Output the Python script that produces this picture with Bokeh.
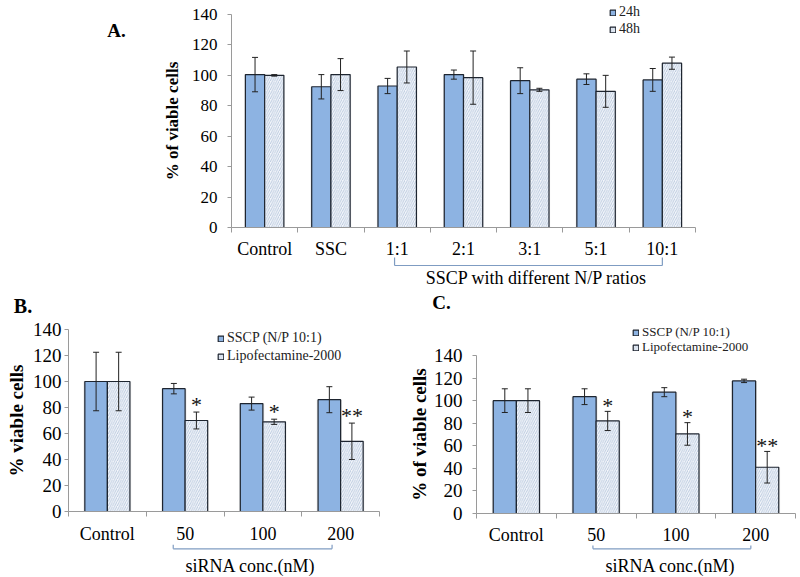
from bokeh.plotting import figure
from bokeh.models import (Range1d, FixedTicker, Whisker, TeeHead, ColumnDataSource,
                          Legend, LegendItem, Label, Arrow)
from bokeh.layouts import column, row
from bokeh.embed import file_html
from bokeh.resources import INLINE
from bokeh.core.properties import value

# ---------------- data ----------------
A_cats = ["Control", "SSC", "1:1", "2:1", "3:1", "5:1", "10:1"]
A_24h = [100.5, 92.5, 93, 100.5, 96.5, 97.5, 97]
A_24h_err = [11.3, 8, 5, 3, 8.5, 3.5, 7.5]
A_48h = [100, 100.5, 105.5, 98.5, 90.5, 89.5, 108]
A_48h_err = [0.5, 10.5, 10.5, 17.5, 1, 10.5, 4]

B_cats = ["Control", "50", "100", "200"]
B_sscp = [100, 94.5, 83, 86]
B_sscp_err = [22.5, 4, 5, 10]
B_lipo = [100, 70, 69, 54]
B_lipo_err = [22.5, 6.5, 2, 14]
B_stars = ["", "*", "*", "**"]

C_cats = ["Control", "50", "100", "200"]
C_sscp = [100, 103.5, 107.5, 117.5]
C_sscp_err = [10.5, 7, 4, 1.5]
C_lipo = [100, 82, 70.5, 41]
C_lipo_err = [10.5, 8.5, 10, 14]
C_stars = ["", "*", "*", "**"]

y_ticks = [0, 20, 40, 60, 80, 100, 120, 140]
Y_MAX = 140

# ---------------- style ----------------
SERIF = "Liberation Serif"
BLUE = "#8DB3E2"
LIGHT = "#F3F6FB"
HATCH = "#A3B7D2"
EDGE = "#1E2530"
AXIS = "#9A9A9A"
BRACKET = "#7F9CC2"
BW = 0.29


class Panel:
    """Figure whose frame covers the whole canvas; axes are pinned at data 0."""

    def __init__(self, cats, W, H, frame, offset):
        self.W, self.H = W, H
        self.ox, self.oy = offset
        left, right, top, bottom = frame
        n = len(cats)
        self.n = n
        self.left, self.bottom = left, bottom
        self.u = (right - left) / n
        self.v = (bottom - top) / Y_MAX
        p = figure(width=W, height=H, output_backend="svg", toolbar_location=None,
                   x_range=Range1d(-left / self.u, (W - left) / self.u),
                   y_range=Range1d(-(H - bottom) / self.v, Y_MAX + top / self.v))
        p.min_border_left = p.min_border_right = p.min_border_top = p.min_border_bottom = 0
        p.outline_line_color = None
        p.xgrid.visible = False
        p.ygrid.visible = False
        p.background_fill_color = "white"
        p.border_fill_color = "white"
        self.p = p
        self.cats = cats

    def px(self, x, y):
        """page pixel -> data coordinates"""
        fx, fy = x - self.ox, y - self.oy
        return (fx - self.left) / self.u, (self.bottom - fy) / self.v

    def bars(self, s1, e1, s2, e2):
        p = self.p
        centers = [i + 0.5 for i in range(self.n)]
        x1 = [c - BW / 2 for c in centers]
        x2 = [c + BW / 2 for c in centers]
        src1 = ColumnDataSource(dict(x=x1, top=s1, up=[a + b for a, b in zip(s1, e1)],
                                     lo=[a - b for a, b in zip(s1, e1)]))
        src2 = ColumnDataSource(dict(x=x2, top=s2, up=[a + b for a, b in zip(s2, e2)],
                                     lo=[a - b for a, b in zip(s2, e2)]))
        p.vbar(x="x", top="top", width=BW + 0.035, bottom=0, source=src1,
               fill_color="black", fill_alpha=0.10, line_color=None)
        p.vbar(x="x", top="top", width=BW + 0.035, bottom=0, source=src2,
               fill_color="black", fill_alpha=0.06, line_color=None)
        r1 = p.vbar(x="x", top="top", width=BW, bottom=0, source=src1,
                    fill_color=BLUE, line_color=EDGE, line_width=1.2)
        r2 = p.vbar(x="x", top="top", width=BW, bottom=0, source=src2,
                    fill_color=LIGHT, line_color=EDGE, line_width=1.2,
                    hatch_pattern="/", hatch_color=HATCH, hatch_scale=4.5, hatch_weight=0.7)
        for s in (src1, src2):
            p.add_layout(Whisker(source=s, base="x", upper="up", lower="lo",
                                 line_color="#222222", line_width=1, level="annotation",
                                 upper_head=TeeHead(size=6, line_color="#222222", line_width=1),
                                 lower_head=TeeHead(size=6, line_color="#222222", line_width=1)))
        self.r1, self.r2 = r1, r2

    def axes(self, tick_fs, tick_standoff, cat_fs, cat_standoff, ylabel, ylabel_fs,
             ylabel_standoff):
        p = self.p
        n = self.n
        centers = [i + 0.5 for i in range(n)]
        xa = p.xaxis[0]
        xa.fixed_location = 0
        xa.bounds = (0, n)
        xa.ticker = FixedTicker(ticks=centers, minor_ticks=list(range(n + 1)))
        xa.major_label_overrides = {c: lab for c, lab in zip(centers, self.cats)}
        xa.major_tick_line_color = None
        xa.major_tick_out = 0
        xa.major_tick_in = 0
        xa.minor_tick_line_color = AXIS
        xa.minor_tick_out = 5
        xa.minor_tick_in = 0
        xa.axis_line_color = AXIS
        xa.major_label_text_font = SERIF
        xa.major_label_text_font_size = cat_fs
        xa.major_label_text_color = "black"
        xa.major_label_standoff = cat_standoff

        ya = p.yaxis[0]
        ya.fixed_location = 0
        ya.bounds = (0, Y_MAX)
        ya.ticker = FixedTicker(ticks=y_ticks)
        ya.minor_tick_line_color = None
        ya.major_tick_line_color = AXIS
        ya.major_tick_out = 4
        ya.major_tick_in = 0
        ya.axis_line_color = AXIS
        ya.major_label_text_font = SERIF
        ya.major_label_text_font_size = tick_fs
        ya.major_label_text_color = "black"
        ya.major_label_standoff = tick_standoff
        ya.axis_label = ylabel
        ya.axis_label_text_font = SERIF
        ya.axis_label_text_font_style = "bold"
        ya.axis_label_text_font_size = ylabel_fs
        ya.axis_label_text_color = "black"
        ya.axis_label_standoff = ylabel_standoff

    def legend(self, labels, renderers, glyph_left, row_centers, fs, item_h):
        # one single-row legend per entry so each row sits at its own height
        for lab, r, cy in zip(labels, renderers, row_centers):
            bottom = cy - self.oy + item_h / 2
            lg = Legend(items=[LegendItem(label=lab, renderers=[r])],
                        location=(glyph_left - self.ox, self.H - bottom),
                        orientation="vertical", glyph_width=7, glyph_height=7,
                        label_height=item_h, spacing=0, padding=0, margin=0,
                        label_standoff=3, border_line_alpha=0, background_fill_alpha=0,
                        label_text_font=SERIF, label_text_font_size=fs,
                        label_text_color="#222222", label_text_baseline="middle")
            self.p.add_layout(lg)

    def bracket(self, x0, x1, py, py_top):
        _, y = self.px(0, py)
        _, yt = self.px(0, py_top)
        for xs, ys, xe, ye in ((x0, yt, x0, y), (x0, y, x1, y), (x1, y, x1, yt)):
            self.p.add_layout(Arrow(end=None, x_start=xs, y_start=ys, x_end=xe, y_end=ye,
                                    line_color=BRACKET, line_width=1.2))

    def label(self, text, cx, cy, fs, bold=False):
        x, y = self.px(cx, cy)
        self.p.add_layout(Label(x=x, y=y, text=text, text_font=SERIF, text_font_size=fs,
                                text_font_style="bold" if bold else "normal",
                                text_align="center", text_baseline="middle",
                                text_color="black"))

    def stars(self, stars, vals, errs, dy_px):
        xs = [i + 0.5 + BW / 2 for i in range(self.n)]
        ys = [a + b + dy_px / self.v for a, b in zip(vals, errs)]
        src = ColumnDataSource(dict(x=xs, y=ys, t=stars))
        self.p.text(x="x", y="y", text="t", source=src, text_font=value(SERIF),
                    text_font_size="22px", text_align="center", text_baseline="middle",
                    text_color="#111111")


# ---------------- panel A ----------------
A = Panel(A_cats, 800, 290, (231, 695, 14, 227), (0, 0))
A.bars(A_24h, A_24h_err, A_48h, A_48h_err)
A.axes("17px", 10, "18px", 6, "% of viable cells", "17px", 7)
A.legend(["24h", "48h"], [A.r1, A.r2], 609, [12, 29], "14px", 16)
A.bracket(2.46, 6.5, 265, 257)
A.label("A.", 116, 30, "19px", bold=True)
A.label("SSCP with different N/P ratios", 536, 277, "18px")

# ---------------- panel B ----------------
B = Panel(B_cats, 400, 287, (68, 379, 39, 221), (0, 290))
B.bars(B_sscp, B_sscp_err, B_lipo, B_lipo_err)
B.axes("19px", 3, "18px", 7, "% viable cells", "19px", 3)
B.legend(["SSCP (N/P 10:1)", "Lipofectamine-2000"], [B.r1, B.r2], 217, [338.3, 356],
         "14px", 16)
B.bracket(1.347, 3.39, 548.3, 544.3)
B.label("B.", 22.5, 305, "20px", bold=True)
B.label("siRNA conc.(nM)", 250, 565, "18px")
B.stars(B_stars, B_lipo, B_lipo_err, 8)

# ---------------- panel C ----------------
C = Panel(C_cats, 400, 287, (76, 395, 65, 223), (400, 290))
C.bars(C_sscp, C_sscp_err, C_lipo, C_lipo_err)
C.axes("19px", 10, "18px", 6, "% of viable cells", "19px", 1)
C.legend(["SSCP (N/P 10:1)", "Lipofectamine-2000"], [C.r1, C.r2], 632, [332.5, 347.5],
         "13px", 15)
C.bracket(1.46, 3.44, 548.3, 545)
C.label("C.", 441, 302, "19px", bold=True)
C.label("siRNA conc.(nM)", 670, 565, "18px")
C.stars(C_stars, C_lipo, C_lipo_err, 6)

layout = column(A.p, row(B.p, C.p))
open("out.html", "w").write(file_html(layout, INLINE))
